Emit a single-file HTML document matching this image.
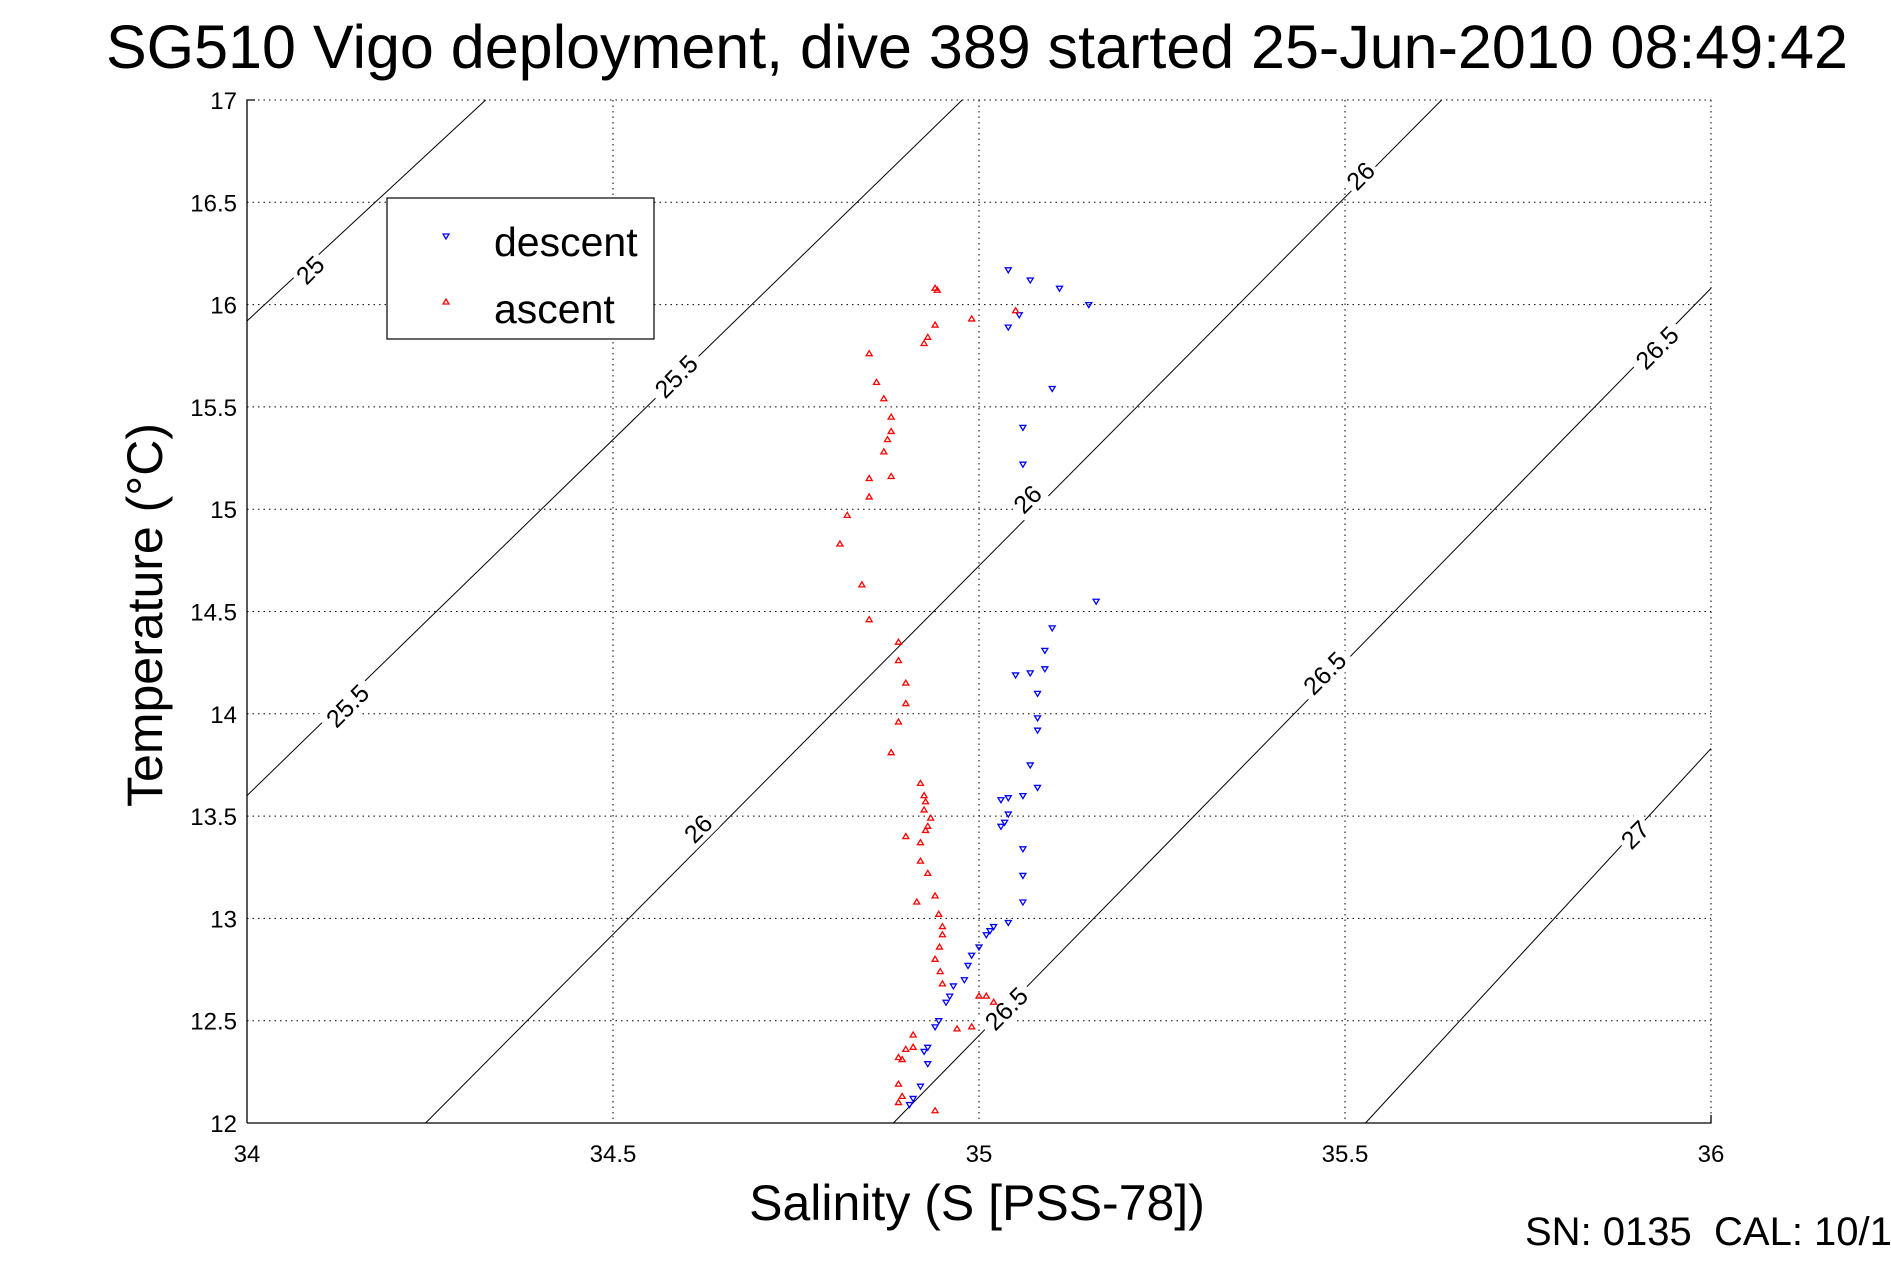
<!DOCTYPE html>
<html><head><meta charset="utf-8"><style>
html,body{margin:0;padding:0;background:#fff;}
svg{display:block;font-family:"Liberation Sans",sans-serif;}
</style></head><body>
<svg id="chart" width="1891" height="1262" xmlns="http://www.w3.org/2000/svg">
<rect width="1891" height="1262" fill="#fff"/>
<text x="977" y="68" font-size="61" text-anchor="middle">SG510 Vigo deployment, dive 389 started 25-Jun-2010 08:49:42</text>
<g id="grid"></g>
<g id="contours"></g>
<g id="points"></g>
<g id="axes"></g>
<text x="977" y="1220" font-size="50" text-anchor="middle">Salinity (S [PSS-78])</text>
<text transform="translate(162,615) rotate(-90)" font-size="50" text-anchor="middle">Temperature (°C)</text>
<text x="1525" y="1245" font-size="40" xml:space="preserve">SN: 0135  CAL: 10/1</text>
<g>
<rect x="387" y="198" width="267" height="141" fill="#fff" stroke="#000" stroke-width="1.2"/>
<polygon points="443,234 449,234 446,239" fill="none" stroke="#00f" stroke-width="1.3"/>
<text x="494" y="256" font-size="41">descent</text>
<polygon points="443,304 449,304 446,299" fill="none" stroke="#f00" stroke-width="1.3"/>
<text x="494" y="323" font-size="41">ascent</text>
</g>
</svg>
<script>
const xTicks=[34,34.5,35,35.5,36];
const yTicks=[12,12.5,13,13.5,14,14.5,15,15.5,16,16.5,17];
const xTickLabels=["34","34.5","35","35.5","36"];
const yTickLabels=["12","12.5","13","13.5","14","14.5","15","15.5","16","16.5","17"];
const descentS=[35.04,35.07,35.11,35.15,35.055,35.04,35.10,35.06,35.06,35.16,35.10,35.09,35.09,35.07,35.05,35.08,35.08,35.08,35.07,35.08,35.06,35.04,35.03,35.04,35.035,35.03,35.06,35.06,35.06,35.04,35.02,35.015,35.01,35.0,34.99,34.985,34.98,34.965,34.96,34.955,34.945,34.94,34.93,34.925,34.93,34.92,34.91,34.905];
const descentT=[16.17,16.12,16.08,16.0,15.95,15.89,15.59,15.40,15.22,14.55,14.42,14.31,14.22,14.20,14.19,14.10,13.98,13.92,13.75,13.64,13.60,13.59,13.58,13.51,13.47,13.45,13.34,13.21,13.08,12.98,12.96,12.94,12.92,12.86,12.82,12.77,12.70,12.67,12.62,12.59,12.50,12.47,12.37,12.35,12.29,12.18,12.12,12.09];
const ascentS=[34.94,34.943,34.99,35.05,34.94,34.93,34.925,34.85,34.86,34.87,34.88,34.88,34.875,34.87,34.88,34.85,34.85,34.82,34.81,34.84,34.85,34.89,34.89,34.90,34.90,34.89,34.88,34.92,34.925,34.927,34.925,34.934,34.93,34.927,34.90,34.92,34.92,34.93,34.915,34.94,34.945,34.95,34.95,34.946,34.94,34.947,34.95,35.01,35.02,35.0,34.99,34.97,34.91,34.91,34.90,34.895,34.89,34.89,34.895,34.89,34.94];
const ascentT=[16.08,16.07,15.93,15.97,15.90,15.84,15.81,15.76,15.62,15.54,15.45,15.38,15.34,15.28,15.16,15.15,15.06,14.97,14.83,14.63,14.46,14.35,14.26,14.15,14.05,13.96,13.81,13.66,13.60,13.57,13.53,13.49,13.45,13.43,13.40,13.37,13.28,13.22,13.08,13.11,13.02,12.96,12.92,12.86,12.80,12.74,12.68,12.62,12.59,12.62,12.47,12.46,12.43,12.37,12.36,12.31,12.32,12.19,12.13,12.10,12.06];
const contourLevels=["25","25.5","26","26.5","27"];
const contourS0=[34,34,34.244,34.883,35.528];
const contourT0=[15.92,13.60,12,12,12];
const contourS1=[34.326,34.977,35.632,36,36];
const contourT1=[17,17,17,16.08,13.83];
const labelLevels=["25","25.5","25.5","26","26","26","26.5","26.5","26.5","27"];
const labelS=[34.086,34.586,34.137,35.521,35.066,34.616,35.926,35.472,35.037,35.896];
const labelT=[16.17,15.65,14.04,16.63,15.05,13.44,15.79,14.20,12.56,13.41];

const X0=247,X1=1711,Y0=1123,Y1=100;
const sx=s=>X0+(s-34)/2*(X1-X0);
const sy=t=>Y0-(t-12)/5*(Y0-Y1);
const NS="http://www.w3.org/2000/svg";
function mk(tag,attrs,parent){const e=document.createElementNS(NS,tag);for(const k in attrs)e.setAttribute(k,attrs[k]);parent.appendChild(e);return e;}
const gridG=document.getElementById('grid'),axesG=document.getElementById('axes'),contG=document.getElementById('contours'),ptsG=document.getElementById('points');
xTicks.forEach((v,i)=>{
  const x=sx(v);
  if(i>0&&i<xTicks.length-1){const g=mk('line',{x1:x,x2:x,y1:Y1,y2:Y0,stroke:'#000','stroke-width':1,'stroke-dasharray':'1.5,4'},gridG);
  
  }
  const t=mk('text',{x:x,y:1162,'font-size':24,'text-anchor':'middle'},axesG);t.textContent=xTickLabels[i];
  
  
});
yTicks.forEach((v,i)=>{
  const y=sy(v);
  if(i>0&&i<yTicks.length-1){const g=mk('line',{x1:X0,x2:X1,y1:y,y2:y,stroke:'#000','stroke-width':1,'stroke-dasharray':'1.5,4'},gridG);
  
  }
  const t=mk('text',{x:237,y:y+9,'font-size':24,'text-anchor':'end'},axesG);t.textContent=yTickLabels[i];
  
  
});
const yAxisLine=mk('polyline',{points:`${X0},${Y0} ${X0},${Y1} ${X0+8},${Y1}`,fill:'none',stroke:'#000','stroke-width':1.3},axesG);


const xAxisLine=mk('polyline',{points:`${X0},${Y0} ${X1},${Y0} ${X1},${Y0-8}`,fill:'none',stroke:'#000','stroke-width':1.3},axesG);


const tb=mk('line',{x1:X0,x2:X1,y1:Y1,y2:Y1,stroke:'#000','stroke-dasharray':'1.5,4'},gridG);


const rb=mk('line',{x1:X1,x2:X1,y1:Y1,y2:Y0,stroke:'#000','stroke-dasharray':'1.5,4'},gridG);



contourLevels.forEach((lv,i)=>{
  const l=mk('line',{x1:sx(contourS0[i]),y1:sy(contourT0[i]),x2:sx(contourS1[i]),y2:sy(contourT1[i]),stroke:'#000','stroke-width':1},contG);
  
  
});
labelLevels.forEach((lv,i)=>{
  const x=sx(labelS[i]),y=sy(labelT[i]);
  const g=mk('g',{transform:`translate(${x},${y}) rotate(-45)`},contG);
  
  
  const w=lv.length*13+8;
  mk('rect',{x:-w/2,y:-14,width:w,height:28,fill:'#fff'},g);
  const t=mk('text',{x:0,y:9,'font-size':25,'text-anchor':'middle'},g);t.textContent=lv;
});
descentS.forEach((s,i)=>{
  const x=sx(s),y=sy(descentT[i]);
  const p=mk('polygon',{points:`${x-3},${y-2} ${x+3},${y-2} ${x},${y+3}`,fill:'none',stroke:'#00f','stroke-width':1.3},ptsG);
  
  
});
ascentS.forEach((s,i)=>{
  const x=sx(s),y=sy(ascentT[i]);
  const p=mk('polygon',{points:`${x-3},${y+2} ${x+3},${y+2} ${x},${y-3}`,fill:'none',stroke:'#f00','stroke-width':1.3},ptsG);
  
  
});
</script>
</body></html>
